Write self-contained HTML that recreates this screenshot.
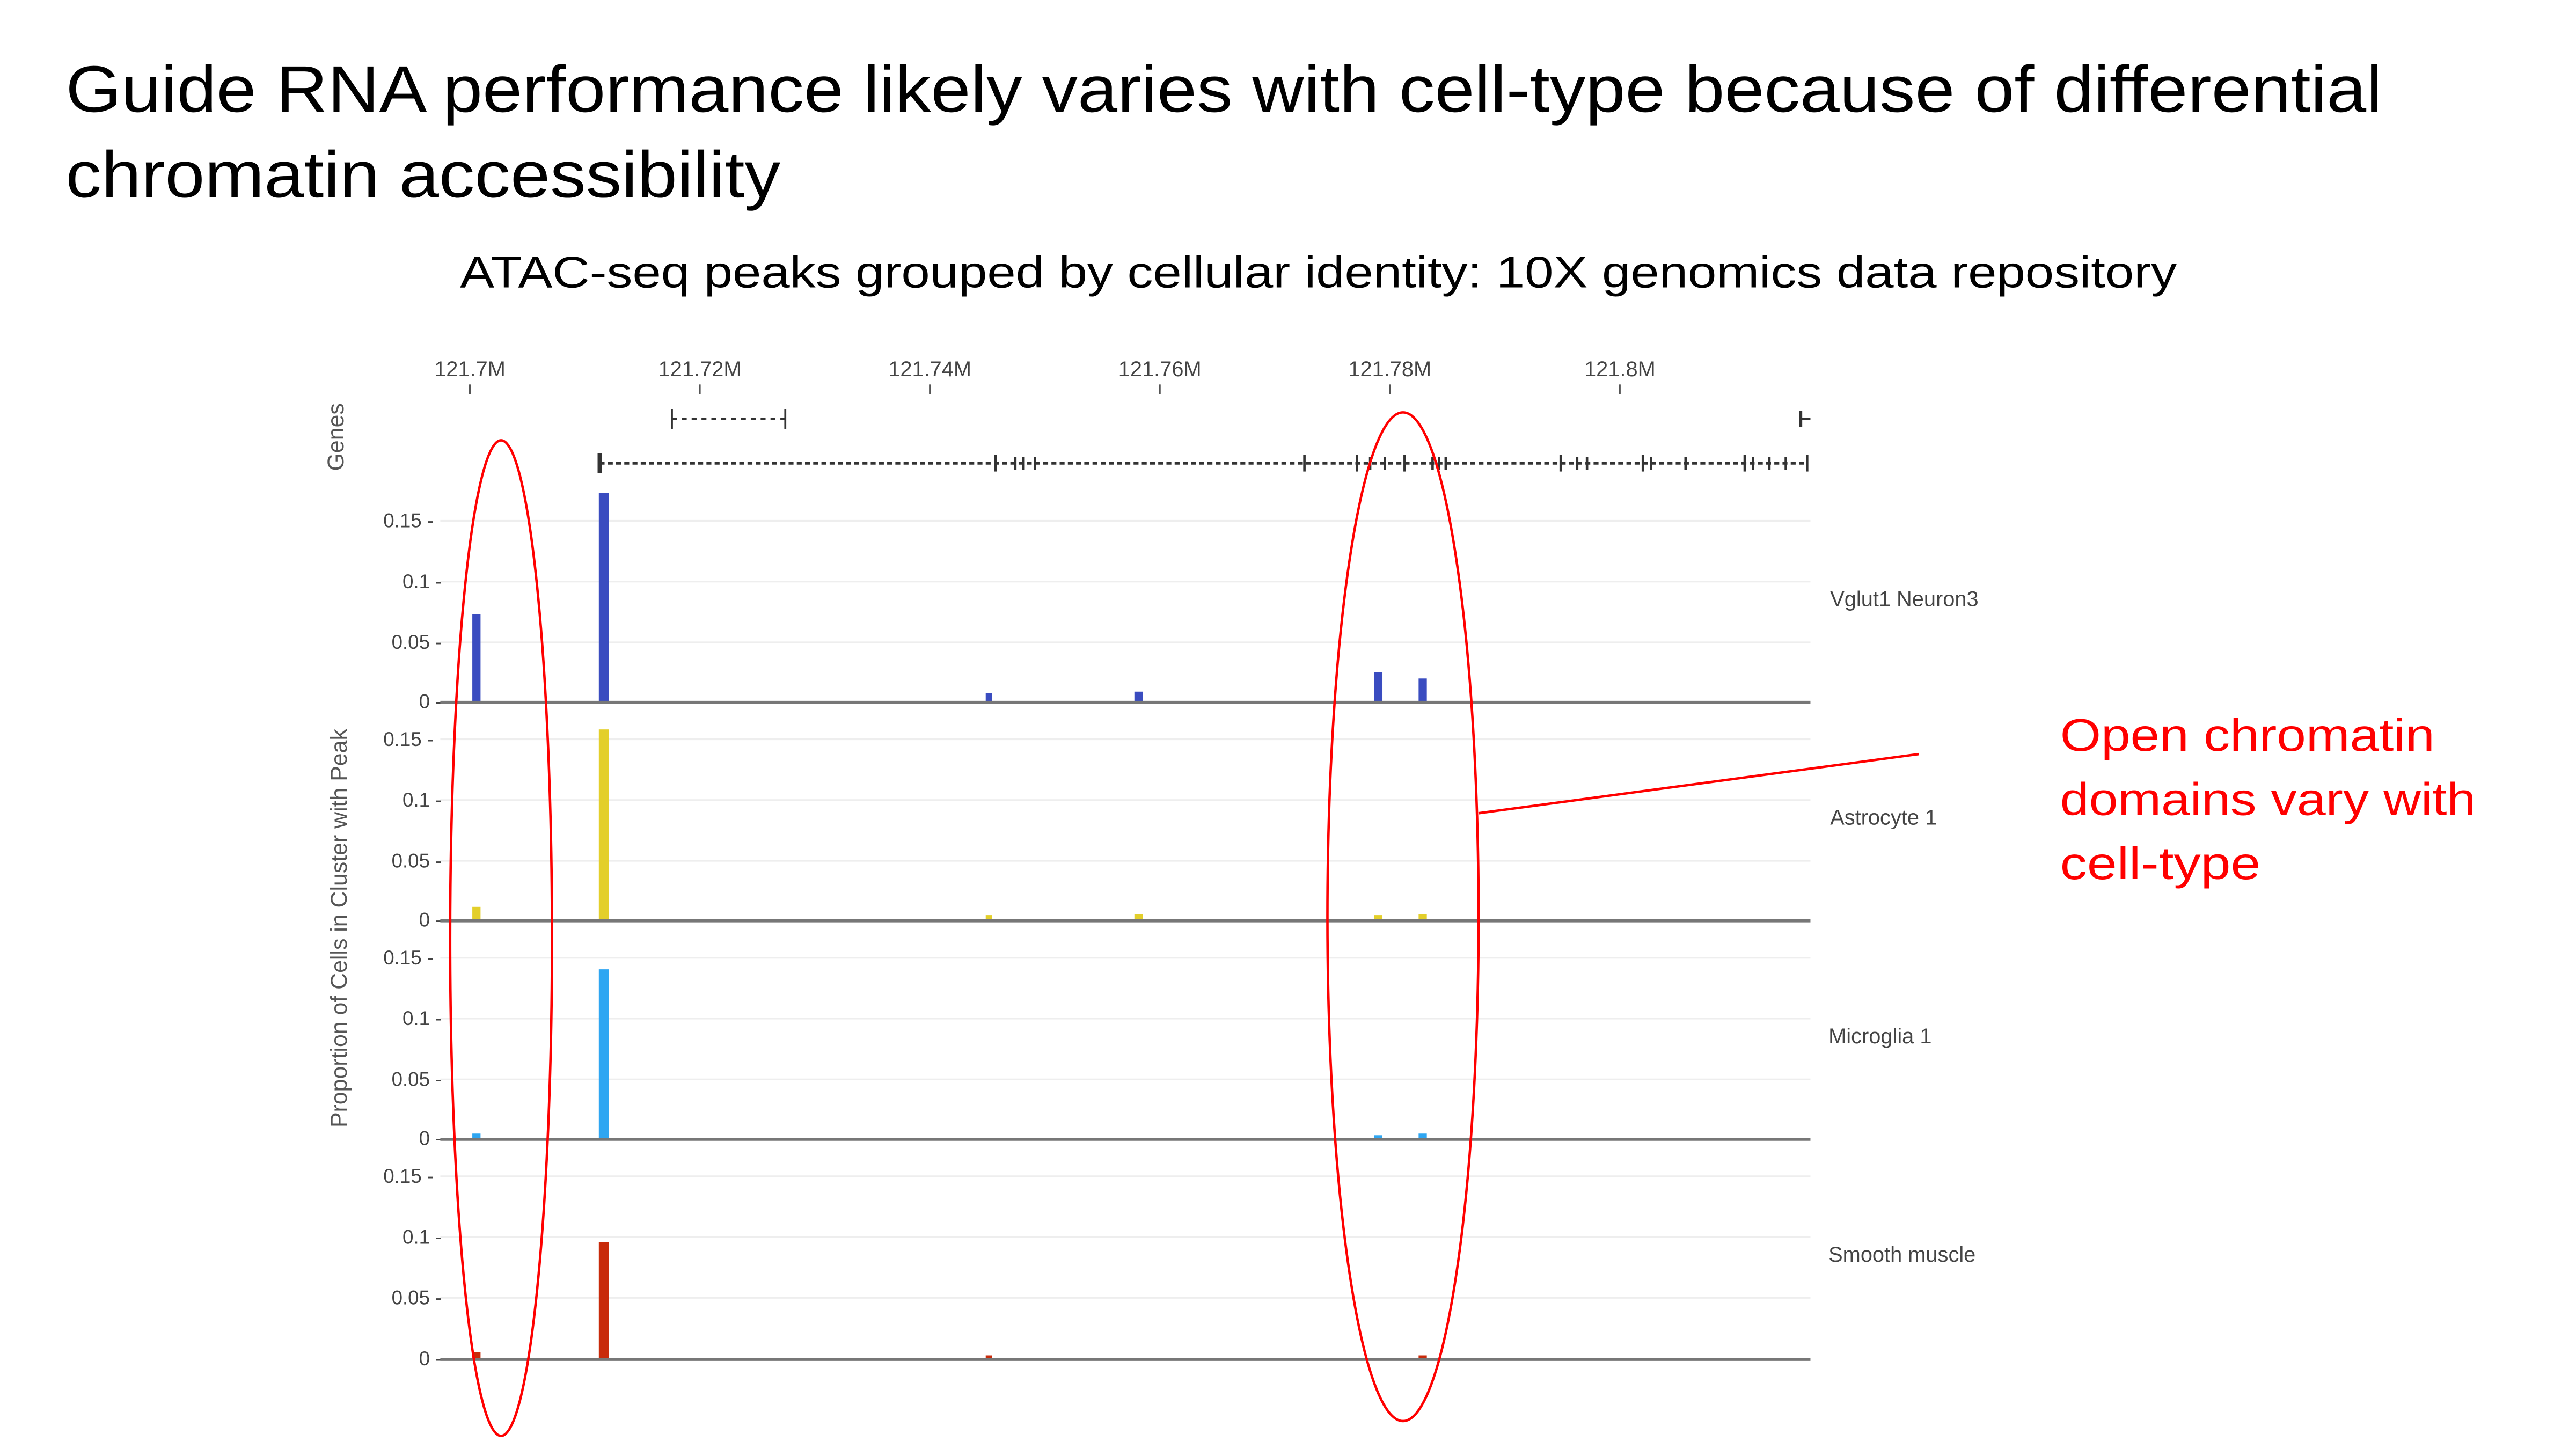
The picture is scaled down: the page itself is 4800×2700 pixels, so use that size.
<!DOCTYPE html>
<html><head><meta charset="utf-8"><style>
html,body{margin:0;padding:0;background:#fff;}
svg{display:block;}
</style></head><body>
<svg width="4800" height="2700" viewBox="0 0 1568 882" preserveAspectRatio="none" xmlns="http://www.w3.org/2000/svg" font-family="Liberation Sans, sans-serif">
<rect width="1568" height="882" fill="#fff"/>
<text x="40" y="68" font-size="40" fill="#000" textLength="1410" lengthAdjust="spacingAndGlyphs">Guide RNA performance likely varies with cell-type because of differential</text>
<text x="40" y="120" font-size="40" fill="#000" textLength="435" lengthAdjust="spacingAndGlyphs">chromatin accessibility</text>
<text x="280" y="175" font-size="27" fill="#000" textLength="1045" lengthAdjust="spacingAndGlyphs">ATAC-seq peaks grouped by cellular identity: 10X genomics data repository</text>

<g font-size="13" fill="#444" text-anchor="middle">
<text x="286" y="229">121.7M</text><text x="426" y="229">121.72M</text><text x="566" y="229">121.74M</text>
<text x="706" y="229">121.76M</text><text x="846" y="229">121.78M</text><text x="986" y="229">121.8M</text>
</g>
<g stroke="#555" stroke-width="1">
<line x1="286" y1="234" x2="286" y2="240"/><line x1="426" y1="234" x2="426" y2="240"/><line x1="566" y1="234" x2="566" y2="240"/>
<line x1="706" y1="234" x2="706" y2="240"/><line x1="846" y1="234" x2="846" y2="240"/><line x1="986" y1="234" x2="986" y2="240"/>
</g>
<text transform="translate(209,266) rotate(-90)" font-size="14" fill="#555" text-anchor="middle">Genes</text>
<g stroke="#333" stroke-width="1.2">
<line x1="409" y1="249" x2="409" y2="261"/><line x1="478" y1="249" x2="478" y2="261"/>
<line x1="409" y1="255" x2="478" y2="255" stroke-dasharray="3,3"/>
<line x1="1096" y1="250" x2="1096" y2="260" stroke-width="2"/><line x1="1096" y1="255" x2="1102" y2="255"/>
<line x1="365" y1="282" x2="1100" y2="282" stroke-dasharray="3,2" stroke-width="1.6"/>
<line x1="365" y1="276" x2="365" y2="288" stroke-width="2.5"/>
</g>
<g stroke="#333" stroke-width="1.5">
<line x1="606" y1="277" x2="606" y2="287"/><line x1="618" y1="278" x2="618" y2="286"/><line x1="623" y1="278" x2="623" y2="286"/><line x1="630" y1="278" x2="630" y2="286"/>
<line x1="794" y1="277" x2="794" y2="287"/><line x1="826" y1="277" x2="826" y2="287"/><line x1="834" y1="278" x2="834" y2="286"/><line x1="843" y1="278" x2="843" y2="286"/>
<line x1="855" y1="277" x2="855" y2="287"/><line x1="872" y1="278" x2="872" y2="286"/><line x1="876" y1="278" x2="876" y2="286"/><line x1="880" y1="278" x2="880" y2="286"/>
<line x1="950" y1="277" x2="950" y2="287"/><line x1="960" y1="278" x2="960" y2="286"/><line x1="966" y1="278" x2="966" y2="286"/>
<line x1="1000" y1="277" x2="1000" y2="287"/><line x1="1005" y1="278" x2="1005" y2="286"/><line x1="1026" y1="278" x2="1026" y2="286"/>
<line x1="1062" y1="277" x2="1062" y2="287"/><line x1="1067" y1="278" x2="1067" y2="286"/><line x1="1077" y1="278" x2="1077" y2="286"/><line x1="1087" y1="278" x2="1087" y2="286"/><line x1="1100" y1="277" x2="1100" y2="287"/>
</g>

<text transform="translate(211,565) rotate(-90)" font-size="14" fill="#555" text-anchor="middle">Proportion of Cells in Cluster with Peak</text>

<g font-size="12" fill="#444" text-anchor="end">
<g stroke="#eee" stroke-width="1"><line x1="268" y1="317" x2="1102" y2="317"/><line x1="268" y1="354" x2="1102" y2="354"/><line x1="268" y1="391" x2="1102" y2="391"/>
<line x1="268" y1="450" x2="1102" y2="450"/><line x1="268" y1="487" x2="1102" y2="487"/><line x1="268" y1="524" x2="1102" y2="524"/>
<line x1="268" y1="583" x2="1102" y2="583"/><line x1="268" y1="620" x2="1102" y2="620"/><line x1="268" y1="657" x2="1102" y2="657"/>
<line x1="268" y1="716" x2="1102" y2="716"/><line x1="268" y1="753" x2="1102" y2="753"/><line x1="268" y1="790" x2="1102" y2="790"/></g>
<text x="264" y="321">0.15 -</text><text x="269" y="358">0.1 -</text><text x="269" y="395">0.05 -</text><text x="269" y="431">0 -</text>
<text x="264" y="454">0.15 -</text><text x="269" y="491">0.1 -</text><text x="269" y="528">0.05 -</text><text x="269" y="564">0 -</text>
<text x="264" y="587">0.15 -</text><text x="269" y="624">0.1 -</text><text x="269" y="661">0.05 -</text><text x="269" y="697">0 -</text>
<text x="264" y="720">0.15 -</text><text x="269" y="757">0.1 -</text><text x="269" y="794">0.05 -</text><text x="269" y="831">0 -</text>
</g>
<g fill="#3a4cc0">
<rect x="287.5" y="374" width="5" height="53"/><rect x="364.5" y="300" width="6" height="127"/>
<rect x="600" y="422" width="4" height="5"/><rect x="690.5" y="421" width="5" height="6"/>
<rect x="836.5" y="409" width="5" height="18"/><rect x="863.5" y="413" width="5" height="14"/>
</g>
<g fill="#e3cf2a">
<rect x="287.5" y="552" width="5" height="8"/><rect x="364.5" y="444" width="6" height="116"/>
<rect x="600" y="557" width="4" height="3"/><rect x="690.5" y="556.5" width="5" height="3.5"/>
<rect x="836.5" y="557" width="5" height="3"/><rect x="863.5" y="556.5" width="5" height="3.5"/>
</g>
<g fill="#2ea6f2">
<rect x="287.5" y="690" width="5" height="3"/><rect x="364.5" y="590" width="6" height="103"/>
<rect x="836.5" y="691" width="5" height="2"/><rect x="863.5" y="690" width="5" height="3"/>
</g>
<g fill="#c82a0a">
<rect x="287.5" y="823" width="5" height="4"/><rect x="364.5" y="756" width="6" height="71"/>
<rect x="600" y="825" width="4" height="2"/><rect x="863.5" y="825" width="5" height="2"/>
</g>
<g stroke="#777" stroke-width="1.8">
<line x1="268" y1="427.5" x2="1102" y2="427.5"/><line x1="268" y1="560.5" x2="1102" y2="560.5"/>
<line x1="268" y1="693.5" x2="1102" y2="693.5"/><line x1="268" y1="827.5" x2="1102" y2="827.5"/>
</g>
<g font-size="13" fill="#444">
<text x="1114" y="369">Vglut1 Neuron3</text><text x="1114" y="502">Astrocyte 1</text>
<text x="1113" y="635">Microglia 1</text><text x="1113" y="768">Smooth muscle</text>
</g>

<g fill="none" stroke="#f00" stroke-width="1.5">
<ellipse cx="305" cy="571" rx="31" ry="303"/>
<ellipse cx="854" cy="558" rx="46" ry="307"/>
<line x1="900" y1="495" x2="1168" y2="459"/>
</g>
<g font-size="28" fill="#f00">
<text x="1254" y="457" textLength="228" lengthAdjust="spacingAndGlyphs">Open chromatin</text>
<text x="1254" y="496" textLength="253" lengthAdjust="spacingAndGlyphs">domains vary with</text>
<text x="1254" y="535" textLength="122" lengthAdjust="spacingAndGlyphs">cell-type</text>
</g>
</svg>
</body></html>
